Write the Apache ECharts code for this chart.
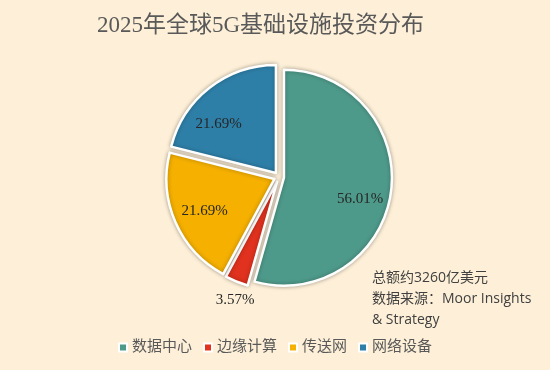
<!DOCTYPE html>
<html><head><meta charset="utf-8">
<script src="https://cdn.jsdelivr.net/npm/echarts@6/dist/echarts.min.js"></script>
<style>html,body{margin:0;padding:0;background:#FEF0D8;}#c{width:550px;height:370px;}</style>
</head><body><div id="c"></div>
<script>
const categories = ['数据中心', '边缘计算', '传送网', '网络设备'];
const values = [56.01, 3.57, 21.69, 21.69];
const colors = ['#4E9A8A', '#E0321E', '#F5B000', '#2E7FA8'];
const titleText = '2025年全球5G基础设施投资分布';
const noteLines = ['总额约3260亿美元', '数据来源：Moor Insights', '& Strategy'];

const chart = echarts.init(document.getElementById('c'));
const serif = '"Liberation Serif", "DejaVu Serif", "Noto Sans CJK SC", serif';
const sans = '"Open Sans", "Liberation Sans", "Noto Sans CJK SC", sans-serif';
const center = [279, 177];
const labelShift = [[-8, 10], [-10, 40], [8, -2], [-5, 18]];
const mainData = categories.map((n, i) => ({
  name: n, value: values[i], selected: true,
  itemStyle: { color: colors[i] }
}));
const labelData = categories.map((n, i) => ({ name: n, value: values[i], selected: true }));
chart.setOption({
  backgroundColor: '#FEF0D8',
  animation: false,
  title: {
    text: titleText, left: 92, top: 9,
    textStyle: { fontFamily: serif, fontSize: 23, fontWeight: 'normal', color: '#595959' }
  },
  legend: {
    bottom: 10, left: 'center', icon: 'rect', itemWidth: 8, itemHeight: 8, itemGap: 11,
    data: categories,
    textStyle: { fontFamily: serif, fontSize: 15, color: '#595959' }
  },
  color: colors,
  series: [{
    type: 'pie', center: center, radius: [0, 108], startAngle: 90, clockwise: true,
    selectedMode: 'multiple', selectedOffset: 5, silent: true,
    itemStyle: { borderColor: '#ffffff', borderWidth: 2.5, shadowBlur: 4, shadowColor: 'rgba(0,0,0,0.3)' },
    label: { show: false }, labelLine: { show: false },
    data: mainData
  }, {
    type: 'pie', center: center, radius: [56, 108], startAngle: 90, clockwise: true,
    selectedMode: 'multiple', selectedOffset: 5, silent: true,
    itemStyle: { color: 'rgba(0,0,0,0)' },
    label: {
      show: true, position: 'inside',
      formatter: p => p.value.toFixed(2) + '%',
      fontFamily: serif, fontSize: 15, color: '#262626'
    },
    labelLine: { show: false },
    labelLayout: p => ({ dx: labelShift[p.dataIndex][0], dy: labelShift[p.dataIndex][1] }),
    data: labelData
  }],
  graphic: noteLines.map((t, i) => ({
    type: 'text', left: 372, top: 271 + i * 21,
    style: { text: t, font: '14px ' + sans, fill: '#404040' }
  }))
});
</script></body></html>
